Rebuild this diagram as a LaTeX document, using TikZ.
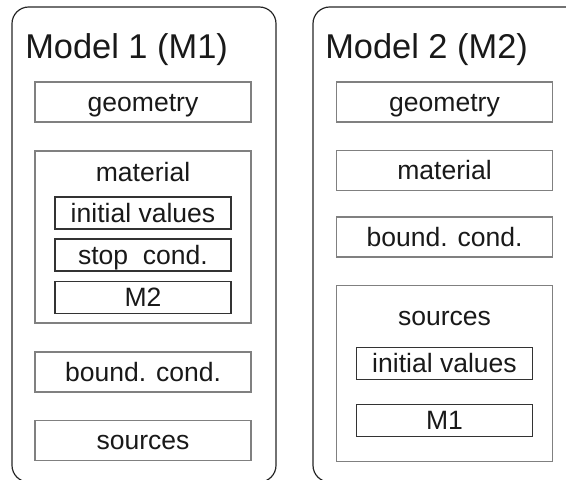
\documentclass[tikz,border=0pt]{standalone}
\usepackage{fontspec}
\setmainfont{Liberation Sans}
\begin{document}
\begin{tikzpicture}[x=0.75pt,y=-0.75pt,
  model/.style={draw=black!85, line width=0.9pt, rounded corners=12.5pt},
  title/.style={anchor=base west, inner sep=0pt, font=\fontsize{25.8pt}{28pt}\selectfont, text=black!90},
  txt/.style={font=\fontsize{19.9pt}{22pt}\selectfont, text=black!90, text height=14.2pt, text depth=0pt},
  part/.style={draw=black!50, line width=0.8pt, txt, inner sep=0pt,
               minimum width=162pt, minimum height=30pt},
  group/.style={draw=black!50, line width=0.8pt, inner sep=0pt, minimum width=162pt},
  sub/.style={draw=black!80, line width=0.8pt, txt, inner sep=0pt,
              minimum width=132pt, minimum height=24pt},
  caption/.style={txt, inner sep=0pt}]
\useasboundingbox (0,0) rectangle (566,479);

% model frames (they run past the lower and right borders)
\draw[model] (12,7) rectangle (276,482);
\draw[model] (313,7) rectangle (590,482);

\node[title] (t1) at (25,58) {Model 1 (M1)};
\node[title] (t2) at (325,58) {Model 2 (M2)};

% Model 1
\node[part] (geo1) at (143,102) {geometry};
\node[group, minimum height=129pt] (mat1) at (143,237) {};
\node[caption] (matlbl1) at (143,172.5) {material};
\node[sub] (iv1) at (143,213) {initial values};
\node[sub] (sc1) at (143,255) {stop\ \ cond.};
\node[sub] (mtwo) at (143,297.5) {M2};
\node[part] (bc1) at (143,372) {bound. cond.};
\node[part] (src1) at (143,440.5) {sources};

% Model 2
\node[part] (geo2) at (444.5,102) {geometry};
\node[part] (mat2) at (444.5,170.5) {material};
\node[part] (bc2) at (444.5,237) {bound. cond.};
\node[group, minimum height=131.5pt] (src2) at (444.5,373.5) {};
\node[caption] (srclbl2) at (444.5,316.5) {sources};
\node[sub] (iv2) at (444.5,363.5) {initial values};
\node[sub] (mone) at (444.5,420.5) {M1};
\end{tikzpicture}
\end{document}
